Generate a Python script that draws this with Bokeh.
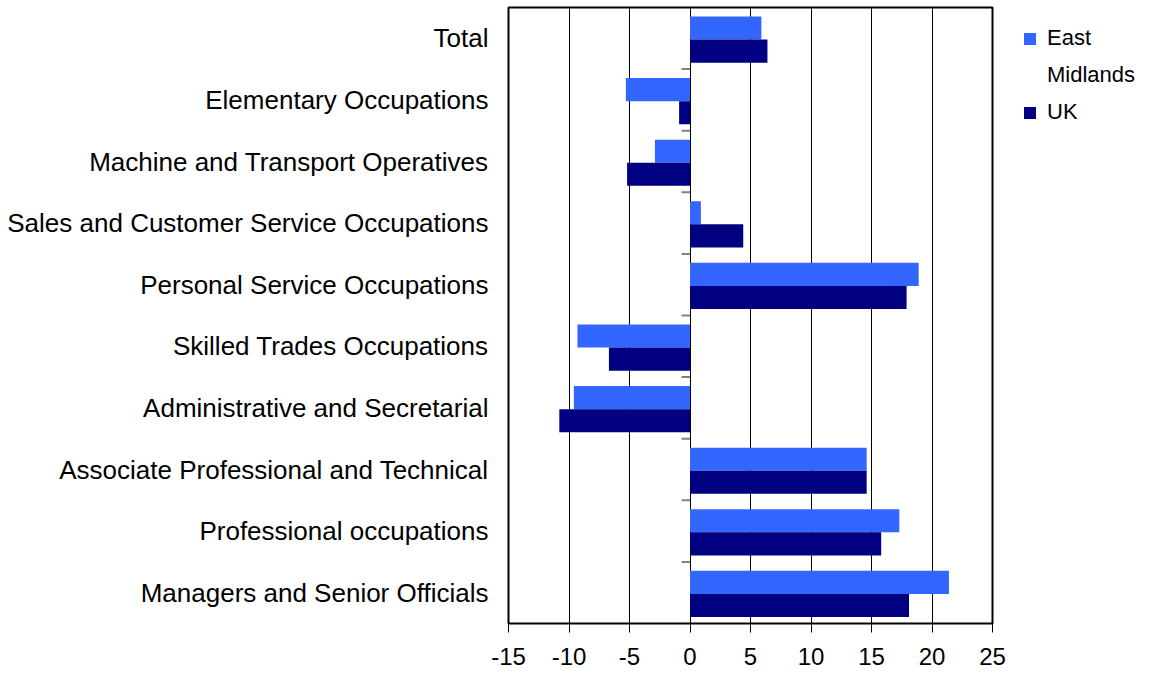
from bokeh.plotting import figure
from bokeh.models import Range1d, FixedTicker, Legend, LegendItem, ColumnDataSource
from bokeh.embed import file_html
from bokeh.resources import INLINE

categories = [
    "Total",
    "Elementary Occupations",
    "Machine and Transport Operatives",
    "Sales and Customer Service Occupations",
    "Personal Service Occupations",
    "Skilled Trades Occupations",
    "Administrative and Secretarial",
    "Associate Professional and Technical",
    "Professional occupations",
    "Managers and Senior Officials",
]
east_midlands = [5.9, -5.3, -2.9, 0.9, 18.9, -9.3, -9.6, 14.6, 17.3, 21.4]
uk = [6.4, -0.9, -5.2, 4.4, 17.9, -6.7, -10.8, 14.6, 15.8, 18.1]
x_ticks = [-15, -10, -5, 0, 5, 10, 15, 20, 25]
x_tick_labels = ["-15", "-10", "-5", "0", "5", "10", "15", "20", "25"]
legend_lines = ["East", "Midlands", "UK"]

n = len(categories)
centers = [n - i - 0.5 for i in range(n)]
bar_h = 0.375

src = ColumnDataSource(dict(
    cat=categories,
    em=east_midlands,
    uk=uk,
    y_em=[c + bar_h / 2 - 0.02 for c in centers],
    y_uk=[c - bar_h / 2 - 0.02 for c in centers],
))

p = figure(
    frame_width=484, frame_height=616,
    x_range=Range1d(-15, 25), y_range=Range1d(0, n),
    output_backend="svg", toolbar_location=None,
    min_border_left=508, min_border_right=150, min_border_top=7, min_border_bottom=50,
)
p.background_fill_color = "white"
p.border_fill_color = "white"
p.outline_line_color = "black"
p.outline_line_width = 2

r_em = p.hbar(y="y_em", left=0, right="em", height=bar_h, source=src,
              fill_color="#3366FF", line_color=None)
r_uk = p.hbar(y="y_uk", left=0, right="uk", height=bar_h, source=src,
              fill_color="#000080", line_color=None)
# invisible renderer used only to hold the second legend line
r_blank = p.hbar(y="y_em", left=0, right=0, height=0, source=src,
                 fill_alpha=0, line_alpha=0)

# category boundary tick marks on the zero axis
bounds = list(range(1, n))
p.segment(x0=[-0.7] * len(bounds), x1=[0] * len(bounds), y0=bounds, y1=bounds,
          line_color="#808080", line_width=2)

# x axis
p.xaxis.ticker = FixedTicker(ticks=x_ticks)
p.xaxis.major_label_overrides = {t: s for t, s in zip(x_ticks, x_tick_labels)}
p.xaxis.minor_tick_line_color = None
p.xaxis.major_tick_out = 9
p.xaxis.major_tick_in = 0
p.xaxis.major_tick_line_color = "black"
p.xaxis.axis_line_color = None
p.xaxis.major_label_text_font = "Liberation Sans"
p.xaxis.major_label_text_font_size = "24px"
p.xaxis.major_label_text_color = "black"
p.xaxis.major_label_standoff = 15

# y axis
p.yaxis.ticker = FixedTicker(ticks=centers)
p.yaxis.major_label_overrides = {c: name for c, name in zip(centers, categories)}
p.yaxis.minor_tick_line_color = None
p.yaxis.major_tick_line_color = None
p.yaxis.major_tick_out = 0
p.yaxis.major_tick_in = 0
p.yaxis.axis_line_color = None
p.yaxis.major_label_text_font = "Liberation Sans"
p.yaxis.major_label_text_font_size = "26px"
p.yaxis.major_label_text_color = "black"
p.yaxis.major_label_standoff = 20

p.xgrid.ticker = FixedTicker(ticks=x_ticks)
p.xgrid.grid_line_color = "black"
p.xgrid.grid_line_width = 1
p.ygrid.grid_line_color = None

legend = Legend(
    items=[LegendItem(label=legend_lines[0], renderers=[r_em]),
           LegendItem(label=legend_lines[1], renderers=[r_blank]),
           LegendItem(label=legend_lines[2], renderers=[r_uk])],
    location=(30, 498),
    border_line_color=None,
    background_fill_alpha=0,
    glyph_width=15, glyph_height=15,
    label_text_font="Liberation Sans",
    label_text_font_size="22px",
    label_text_color="black",
    label_text_line_height=1.0,
    label_height=26,
    label_standoff=10,
    spacing=11,
    margin=0, padding=0,
)
p.add_layout(legend, "right")

open("out.html", "w").write(file_html(p, INLINE))
